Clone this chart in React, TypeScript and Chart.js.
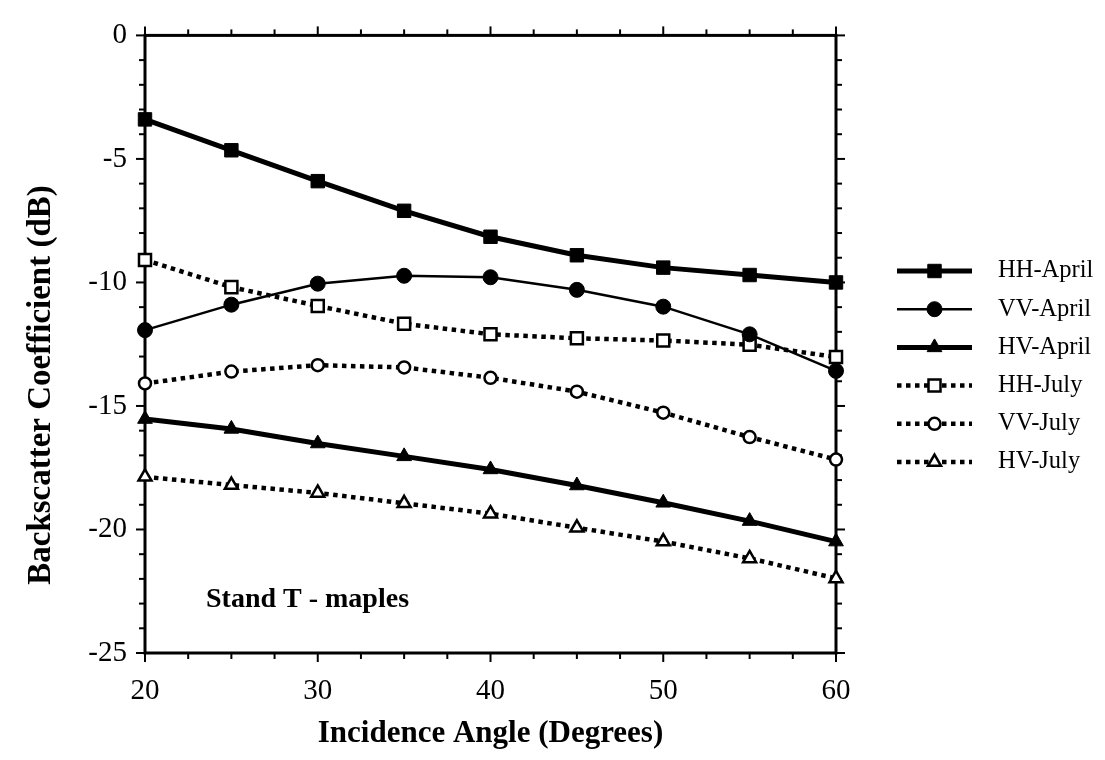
import { useEffect, useRef } from 'react';
import { Chart, registerables } from 'chart.js';
import { drawPoint } from 'chart.js/helpers';

Chart.register(...registerables);

const ANGLES = [20, 25, 30, 35, 40, 45, 50, 55, 60];
const HH_APRIL = [-3.4, -4.65, -5.9, -7.1, -8.15, -8.9, -9.4, -9.7, -10.0];
const VV_APRIL = [-11.93, -10.9, -10.05, -9.73, -9.79, -10.3, -10.98, -12.1, -13.58];
const HV_APRIL = [-15.53, -15.93, -16.52, -17.04, -17.57, -18.22, -18.92, -19.66, -20.49];
const HH_JULY = [-9.09, -10.19, -10.95, -11.67, -12.1, -12.26, -12.35, -12.52, -13.02];
const VV_JULY = [-14.09, -13.61, -13.35, -13.44, -13.86, -14.42, -15.27, -16.26, -17.17];
const HV_JULY = [-17.87, -18.2, -18.52, -18.94, -19.36, -19.93, -20.49, -21.17, -21.98];

const SERIES_LABELS = ['HH-April', 'VV-April', 'HV-April', 'HH-July', 'VV-July', 'HV-July'];
const X_TICKS = [20, 30, 40, 50, 60];
const Y_TICKS = [0, -5, -10, -15, -20, -25];
const X_TITLE = 'Incidence Angle (Degrees)';
const Y_TITLE = 'Backscatter Coefficient (dB)';
const NOTE = 'Stand T - maples';

const SERIF = '"Liberation Serif", "Times New Roman", serif';

const toPoints = (ys: number[]) => ys.map((y, i) => ({ x: ANGLES[i], y }));

const framePlugin = {
  id: 'frame',
  beforeDatasetsDraw(chart: any) {
    const { ctx, chartArea: a, scales } = chart;
    const xs = scales.x;
    const ys = scales.y;
    ctx.save();
    ctx.strokeStyle = '#000';
    ctx.lineWidth = 2;
    ctx.lineCap = 'butt';
    const seg = (x0: number, y0: number, x1: number, y1: number) => {
      ctx.beginPath();
      ctx.moveTo(x0, y0);
      ctx.lineTo(x1, y1);
      ctx.stroke();
    };
    for (let v = xs.min; v <= xs.max + 1e-6; v += 2.5) {
      const px = xs.getPixelForValue(v);
      const len = Math.abs(v % 10) < 1e-6 ? 9 : 6;
      seg(px, a.bottom, px, a.bottom + len);
      seg(px, a.top, px, a.top - len);
    }
    for (let v = ys.min; v <= ys.max + 1e-6; v += 1) {
      const py = ys.getPixelForValue(v);
      const len = Math.abs(v % 5) < 1e-6 ? 9 : 6;
      seg(a.left, py, a.left - len, py);
      seg(a.right, py, a.right + len, py);
    }
    ctx.lineWidth = 3;
    ctx.strokeRect(a.left, a.top, a.right - a.left, a.bottom - a.top);
    ctx.restore();
  },
  afterDraw(chart: any) {
    const { ctx } = chart;
    ctx.save();
    // y title
    ctx.fillStyle = '#000';
    ctx.font = `bold 33px ${SERIF}`;
    ctx.textAlign = 'center';
    ctx.textBaseline = 'middle';
    ctx.translate(41, 385);
    ctx.rotate(-Math.PI / 2);
    ctx.fillText(Y_TITLE, 0, 0);
    ctx.restore();

    ctx.save();
    ctx.fillStyle = '#000';
    ctx.font = `bold 28px ${SERIF}`;
    ctx.textAlign = 'left';
    ctx.textBaseline = 'alphabetic';
    ctx.fillText(NOTE, 206, 607);
    ctx.restore();

    // legend
    const LX0 = 897;
    const LX1 = 972;
    const TX = 998;
    const TOP = 271;
    const STEP = 38.2;
    chart.data.datasets.forEach((ds: any, i: number) => {
      const y = TOP + i * STEP;
      ctx.save();
      ctx.strokeStyle = ds.borderColor;
      ctx.lineWidth = ds.borderWidth;
      ctx.setLineDash(ds.borderDash || []);
      ctx.lineCap = 'butt';
      ctx.beginPath();
      ctx.moveTo(LX0, y);
      ctx.lineTo(LX1, y);
      ctx.stroke();
      ctx.setLineDash([]);
      ctx.fillStyle = ds.pointBackgroundColor;
      ctx.strokeStyle = ds.pointBorderColor;
      ctx.lineWidth = ds.pointBorderWidth;
      drawPoint(
        ctx,
        { pointStyle: ds.pointStyle, radius: ds.pointRadius, rotation: 0, borderWidth: ds.pointBorderWidth },
        (LX0 + LX1) / 2,
        y
      );
      ctx.fillStyle = '#000';
      ctx.font = `24.5px ${SERIF}`;
      ctx.textAlign = 'left';
      ctx.textBaseline = 'middle';
      ctx.fillText(ds.label, TX, y);
      ctx.restore();
    });
  },
};

const solid = (label: string, data: number[], width: number, style: string, radius: number) => ({
  label,
  data: toPoints(data),
  borderColor: '#000',
  borderWidth: width,
  borderDash: [],
  pointStyle: style,
  pointRadius: radius,
  pointBackgroundColor: '#000',
  pointBorderColor: '#000',
  pointBorderWidth: 1,
  tension: 0,
  clip: false,
});

const dotted = (label: string, data: number[], style: string, radius: number) => ({
  label,
  data: toPoints(data),
  borderColor: '#000',
  borderWidth: 4.5,
  borderDash: [4.5, 4.5],
  pointStyle: style,
  pointRadius: radius,
  pointBackgroundColor: '#fff',
  pointBorderColor: '#000',
  pointBorderWidth: 2.5,
  tension: 0,
  clip: false,
});

export default function App() {
  const ref = useRef<HTMLCanvasElement>(null);
  useEffect(() => {
    if (!ref.current) return;
    const chart = new Chart(ref.current, {
      type: 'line',
      data: {
        datasets: [
          solid(SERIES_LABELS[0], HH_APRIL, 5, 'rect', 9.5),
          solid(SERIES_LABELS[1], VV_APRIL, 2.5, 'circle', 7.5),
          solid(SERIES_LABELS[2], HV_APRIL, 5, 'triangle', 8.5),
          dotted(SERIES_LABELS[3], HH_JULY, 'rect', 8.5),
          dotted(SERIES_LABELS[4], VV_JULY, 'circle', 6),
          dotted(SERIES_LABELS[5], HV_JULY, 'triangle', 7.5),
        ] as any,
      },
      options: {
        animation: false,
        responsive: false,
        maintainAspectRatio: false,
        devicePixelRatio: 1,
        layout: { padding: { top: 18, right: 269, left: 0, bottom: 0 } },
        plugins: { legend: { display: false }, tooltip: { enabled: false } },
        scales: {
          x: {
            type: 'linear',
            min: 20,
            max: 60,
            position: 'bottom',
            grid: { display: false, drawTicks: false },
            border: { display: false },
            afterBuildTicks: (s: any) => {
              s.ticks = X_TICKS.map((v) => ({ value: v }));
            },
            ticks: { padding: 21, color: '#000', font: { family: SERIF, size: 29 } },
            title: {
              display: true,
              text: X_TITLE,
              color: '#000',
              font: { family: SERIF, size: 31, weight: 'bold' },
              padding: { top: 0, bottom: 7 },
            },
            afterFit: (s: any) => {
              s.height = 107;
            },
          },
          y: {
            type: 'linear',
            min: -25,
            max: 0,
            grid: { display: false, drawTicks: false },
            border: { display: false },
            afterBuildTicks: (s: any) => {
              s.ticks = Y_TICKS.map((v) => ({ value: v }));
            },
            ticks: { padding: 18, color: '#000', font: { family: SERIF, size: 29 } },
            afterFit: (s: any) => {
              s.width = 145;
            },
          },
        },
      } as any,
      plugins: [framePlugin],
    });
    return () => chart.destroy();
  }, []);
  return (
    <div style={{ position: 'absolute', left: 0, top: 0, width: 1105, height: 760, background: '#fff' }}>
      <canvas ref={ref} width={1105} height={760} style={{ display: 'block' }} />
    </div>
  );
}
